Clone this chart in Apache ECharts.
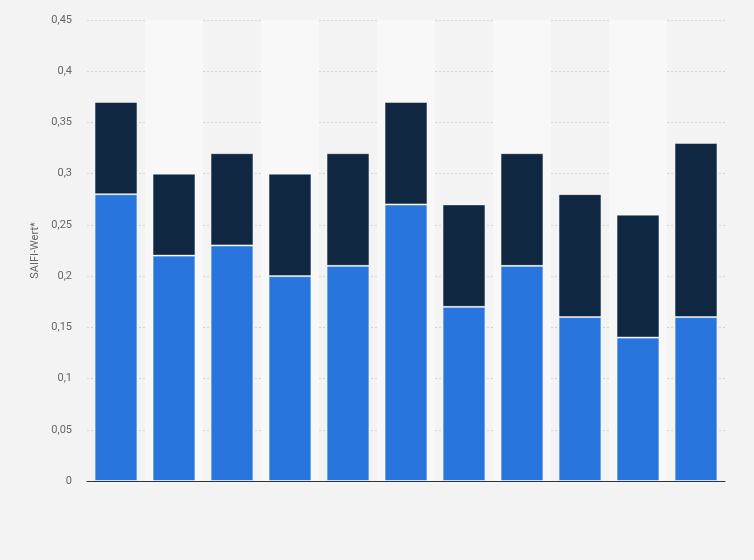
<!DOCTYPE html>
<html>
<head>
<meta charset="utf-8">
<script src="https://cdn.jsdelivr.net/npm/echarts@6/dist/echarts.min.js"></script>
<style>
html,body{margin:0;padding:0;background:#f3f3f3;}
#chart{width:754px;height:560px;}
</style>
</head>
<body>
<div id="chart"></div>
<script>
var categories = ['1','2','3','4','5','6','7','8','9','10','11'];
var seriesLower = [0.28, 0.22, 0.23, 0.20, 0.21, 0.27, 0.17, 0.21, 0.16, 0.14, 0.16];
var seriesUpper = [0.09, 0.08, 0.09, 0.10, 0.11, 0.10, 0.10, 0.11, 0.12, 0.12, 0.17];
var yTicks = [0, 0.05, 0.1, 0.15, 0.2, 0.25, 0.3, 0.35, 0.4, 0.45];

var chart = echarts.init(document.getElementById('chart'));
chart.setOption({
  backgroundColor: '#f3f3f3',
  animation: false,
  grid: {left: 87, right: 29, top: 20, bottom: 79},
  xAxis: {
    type: 'category',
    data: categories,
    axisLine: {show: true, lineStyle: {color: '#333', width: 1}},
    axisTick: {show: false},
    axisLabel: {show: false},
    splitArea: {show: true, areaStyle: {color: ['rgba(0,0,0,0)', '#f8f8f8']}},
    splitLine: {show: false}
  },
  yAxis: {
    type: 'value',
    min: yTicks[0],
    max: yTicks[yTicks.length - 1],
    interval: 0.05,
    name: 'SAIFI-Wert*',
    nameLocation: 'middle',
    nameGap: 42,
    nameTextStyle: {color: '#666', fontSize: 11, fontFamily: 'Roboto'},
    axisLine: {show: false},
    axisTick: {show: false},
    axisLabel: {
      color: '#666', fontSize: 11, fontFamily: 'Roboto', margin: 15,
      formatter: function (v) { return String(Math.round(v * 100) / 100).replace('.', ','); }
    },
    splitLine: {show: true, lineStyle: {color: '#d6d6d6', type: [2, 2], width: 1}}
  },
  series: [
    {
      type: 'bar', stack: 'a', data: seriesLower, barWidth: '74%',
      itemStyle: {color: '#2876dd', borderColor: 'rgba(255,255,255,0.55)', borderWidth: 1}
    },
    {
      type: 'bar', stack: 'a', data: seriesUpper, barWidth: '74%',
      itemStyle: {color: '#0f2741', borderColor: 'rgba(255,255,255,0.45)', borderWidth: 1}
    }
  ]
});
</script>
</body>
</html>
